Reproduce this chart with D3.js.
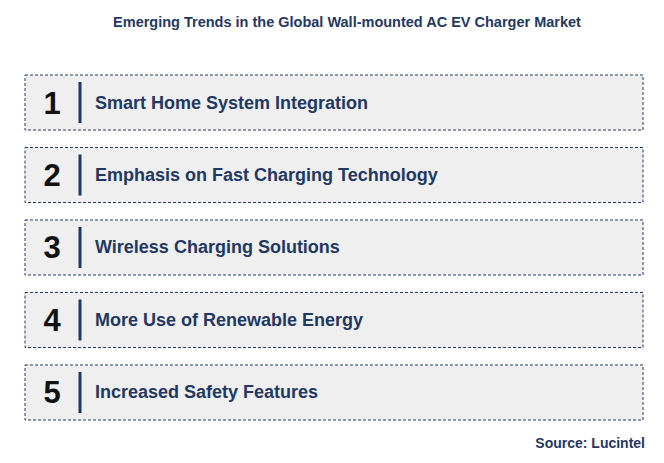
<!DOCTYPE html>
<html><head><meta charset="utf-8">
<script src="https://cdn.jsdelivr.net/npm/d3@7"></script>
<style>body{margin:0;background:#fff}svg{font-family:Arial,"Liberation Sans",sans-serif}</style>
</head><body><svg id="chart"></svg>
<script>
const ranks = ["1", "2", "3", "4", "5"];
const trends = [
  "Smart Home System Integration",
  "Emphasis on Fast Charging Technology",
  "Wireless Charging Solutions",
  "More Use of Renewable Energy",
  "Increased Safety Features"
];
const w = 664, h = 463;
const navy = "#1f3864";
const svg = d3.select("#chart").attr("width", w).attr("height", h);

svg.append("text").attr("x", 347).attr("y", 27).attr("text-anchor", "middle")
  .attr("font-size", 14.5).attr("font-weight", "bold").attr("fill", navy)
  .text("Emerging Trends in the Global Wall-mounted AC EV Charger Market");

const y = d3.scaleBand().domain(ranks).range([75, 420]).paddingInner(0.241).paddingOuter(0);

const row = svg.selectAll("g.row").data(ranks).enter().append("g").attr("class", "row")
  .attr("transform", d => "translate(0," + y(d) + ")");

row.append("rect").attr("x", 25).attr("y", 0).attr("width", 618).attr("height", y.bandwidth())
  .attr("fill", "#efefef").attr("stroke", navy).attr("stroke-width", 1).attr("stroke-dasharray", "3,2");
row.append("text").attr("x", 52).attr("y", y.bandwidth() / 2 + 11).attr("text-anchor", "middle")
  .attr("font-size", 31).attr("font-weight", "bold").attr("fill", "#111").text(d => d);
row.append("line").attr("x1", 80).attr("x2", 80).attr("y1", 7).attr("y2", y.bandwidth() - 7)
  .attr("stroke", navy).attr("stroke-width", 3);
row.append("text").attr("x", 95).attr("y", y.bandwidth() / 2 + 6)
  .attr("font-size", 18).attr("font-weight", "bold").attr("fill", navy)
  .text((d, i) => trends[i]);

svg.append("text").attr("x", 645).attr("y", 448).attr("text-anchor", "end")
  .attr("font-size", 14).attr("font-weight", "bold").attr("fill", navy).text("Source: Lucintel");
</script></body></html>
